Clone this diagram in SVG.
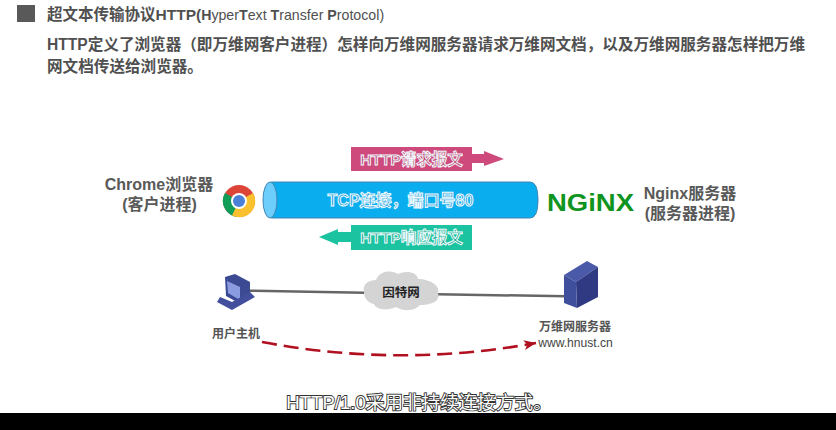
<svg xmlns="http://www.w3.org/2000/svg" width="836" height="430" viewBox="0 0 836 430">
<defs>
<marker id="ah" markerUnits="userSpaceOnUse" markerWidth="14" markerHeight="12" refX="12" refY="5" orient="auto"><path d="M0 0L12 5L0 10L3 5Z" fill="#b01020"/></marker>
</defs>
<style>
text{font-family:"Liberation Sans","Noto Sans CJK SC",sans-serif}
.h{font-weight:700;fill:#505050}
.n{font-weight:400}
.o{font-weight:700;stroke:#f2fbff;stroke-width:1;text-anchor:middle}
.l{font-weight:700;fill:#595959;text-anchor:middle;font-size:16px}
.s{font-weight:700;fill:#555;text-anchor:middle;font-size:12px}
</style>
<rect width="836" height="430" fill="#fff"/>
<g id="header">
<rect x="17" y="5" width="18" height="17" fill="#595959"/>
<text class="h" x="47" y="20" font-size="15.500">超文本传输协议HTTP(<tspan font-size="14.200">H</tspan><tspan class="n" font-size="14.200">yper</tspan><tspan font-size="14.200">T</tspan><tspan class="n" font-size="14.200">ext </tspan><tspan font-size="14.200">T</tspan><tspan class="n" font-size="14.200">ransfer </tspan><tspan font-size="14.200">P</tspan><tspan class="n" font-size="14.200">rotocol)</tspan></text>
<text class="h" x="47" y="50" font-size="15.600">HTTP定义了浏览器（即万维网客户进程）怎样向万维网服务器请求万维网文档，以及万维网服务器怎样把万维</text>
<text class="h" x="47" y="72" font-size="15.600">网文档传送给浏览器。</text>
</g>
<g id="connectors">
<path d="M250 289.500L364 291.500V294L250 292Z" fill="#666"/>
<path d="M437 293L566 295V297.500L437 295.500Z" fill="#666"/>
<path d="M262 342Q400 368 536 343" fill="none" stroke="#b01020" stroke-width="2.600" stroke-dasharray="15 7" marker-end="url(#ah)"/>
</g>
<g id="browser">
<text class="l" x="159" y="190">Chrome浏览器</text>
<text class="l" x="159.500" y="210">(客户进程)</text>
<circle cx="239" cy="201" r="16" fill="#db4437"/>
<path d="M239 201L225 193A16 16 0 0 0 239 217Z" fill="#0f9d58"/>
<path d="M239 201L253 193A16 16 0 0 1 232 215.500Z" fill="#fbc02d"/>
<circle cx="239" cy="201" r="8" fill="#fff"/>
<circle cx="239" cy="201" r="6" fill="#4a80d8"/>
</g>
<g id="tcp">
<path d="M271 182H530Q538 182 538 200Q538 218 530 218H271Z" fill="#0aaeef" stroke="#3f86b5"/>
<ellipse cx="270" cy="200" rx="7" ry="18" fill="#6dcdfb" stroke="#3f86b5"/>
<text class="o" x="400.500" y="206" font-size="16" fill="#2f9fdc">TCP连接，端口号80</text>
</g>
<g id="request">
<path d="M351 147H472V154H484V151L504 159L484 166V163H472V171H351Z" fill="#cf4a7c"/>
<text class="o" x="411.500" y="165" font-size="15.500" fill="#b8456f">HTTP请求报文</text>
</g>
<g id="response">
<path d="M472 225H351V232H338V229L319 237L338 245V242H351V250H472Z" fill="#1bc3a0"/>
<text class="o" x="411.500" y="243" font-size="15.500" fill="#14a88a">HTTP响应报文</text>
</g>
<g id="nginx">
<text x="547" y="211" font-size="24" font-weight="700" fill="#0f9420" textLength="87" lengthAdjust="spacingAndGlyphs">NGiNX</text>
<text class="l" x="690" y="199">Nginx服务器</text>
<text class="l" x="690" y="219">(服务器进程)</text>
</g>
<g id="host">
<path d="M225 277L235 274L250 282V293L237 302L226 296Z" fill="#3c4a93"/>
<path d="M227 281L240 287V300L228 293Z" fill="#8b9be0"/>
<path d="M217 302L220 297L232 302L250 292L255 297L232 310Z" fill="#434f9c"/>
<text class="s" x="236" y="337.500">用户主机</text>
</g>
<g id="cloud">
<path d="M364 292C362 284 369 280 376 280C380 270 392 270 398 274C406 270 417 272 418 279C428 279 441 285 438 293C441 303 428 305 420 305C414 312 402 311 396 307C388 311 376 310 374 304C368 303 364 298 364 292Z" fill="#d4d4d4"/>
<text x="401" y="297" font-size="12.500" font-weight="700" fill="#222" text-anchor="middle">因特网</text>
</g>
<g id="server">
<path d="M564 275L587 261L598 267L576 282Z" fill="#4a5aa8"/>
<path d="M576 282L598 267V297L577 308Z" fill="#2f3a82"/>
<path d="M564 275L576 282L577 308L564 303Z" fill="#3f4f9c"/>
<text class="s" x="575" y="331">万维网服务器</text>
<text x="575.500" y="346.500" font-size="12.100" font-weight="400" fill="#444" text-anchor="middle">www.hnust.cn</text>
</g>
<g id="subtitle">
<rect x="0" y="413" width="836" height="17" fill="#000"/>
<text x="419" y="409" font-size="18.600" fill="#fff" stroke="#333" stroke-width="1.800" paint-order="stroke" text-anchor="middle">HTTP/1.0采用非持续连接方式。</text>
</g>
</svg>
